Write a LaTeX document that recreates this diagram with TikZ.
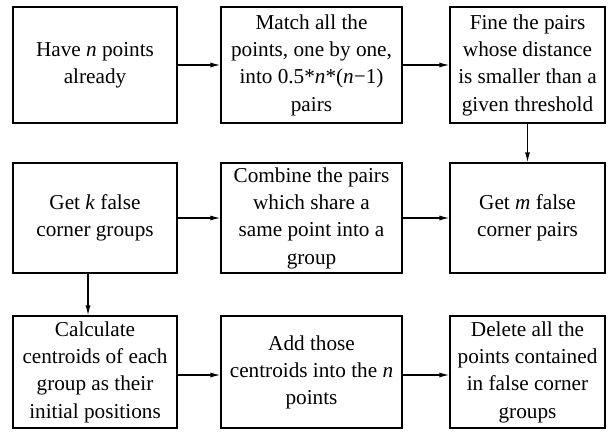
\documentclass[tikz,border=0pt]{standalone}
\usepackage{fontspec}
\setmainfont{Liberation Serif}
\usetikzlibrary{arrows.meta}
\newcommand{\boxtext}[1]{\raisebox{-3bp}{\begin{tabular}{@{}c@{}}#1\end{tabular}}}
\begin{document}
\begin{tikzpicture}[x=1bp,y=1bp,
  box/.style={draw, line width=1.2bp, inner sep=0pt,
    font=\fontsize{21.3}{27.2}\selectfont},
  arr/.style={line width=1.2bp, -{Latex[length=10bp,width=5bp]}}]
\useasboundingbox (0,0) rectangle (612,432);
% row 1
\node[box, minimum width=164bp, minimum height=116bp] (b1) at (95,367) {\boxtext{Have \textit{n} points\\already}};
\node[box, minimum width=181bp, minimum height=116bp] (b2) at (311.5,367) {\boxtext{Match all the\\points, one by one,\\into 0.5*\textit{n}*(\textit{n}−1)\\pairs}};
\node[box, minimum width=155bp, minimum height=116bp] (b3) at (527.5,367) {\boxtext{Fine the pairs\\whose distance\\is smaller than a\\given threshold}};
% row 2
\node[box, minimum width=164bp, minimum height=110bp] (b4) at (95,214) {\boxtext{Get \textit{k} false\\corner groups}};
\node[box, minimum width=181bp, minimum height=110bp] (b5) at (311.5,214) {\boxtext{Combine the pairs\\which share a\\same point into a\\group}};
\node[box, minimum width=155bp, minimum height=110bp] (b6) at (527.5,214) {\boxtext{Get \textit{m} false\\corner pairs}};
% row 3
\node[box, minimum width=164bp, minimum height=112bp] (b7) at (95,60) {\boxtext{Calculate\\centroids of each\\group as their\\initial positions}};
\node[box, minimum width=181bp, minimum height=112bp] (b8) at (311.5,60) {\boxtext{Add those\\centroids into the \textit{n}\\points}};
\node[box, minimum width=155bp, minimum height=112bp] (b9) at (527.5,60) {\boxtext{Delete all the\\points contained\\in false corner\\groups}};
% connectors
\draw[arr] (b1.east) -- (b2.west);
\draw[arr] (b2.east) -- (b3.west);
\draw[arr] (b3.south) -- (b6.north);
\draw[arr] (b4.east) -- (b5.west);
\draw[arr] (b5.east) -- (b6.west);
\draw[arr] ([xshift=-7bp]b4.south) -- ([xshift=-7bp]b7.north);
\draw[arr] ([yshift=-3bp]b7.east) -- ([yshift=-3bp]b8.west);
\draw[arr] ([yshift=-3bp]b8.east) -- ([yshift=-3bp]b9.west);
\end{tikzpicture}
\end{document}
